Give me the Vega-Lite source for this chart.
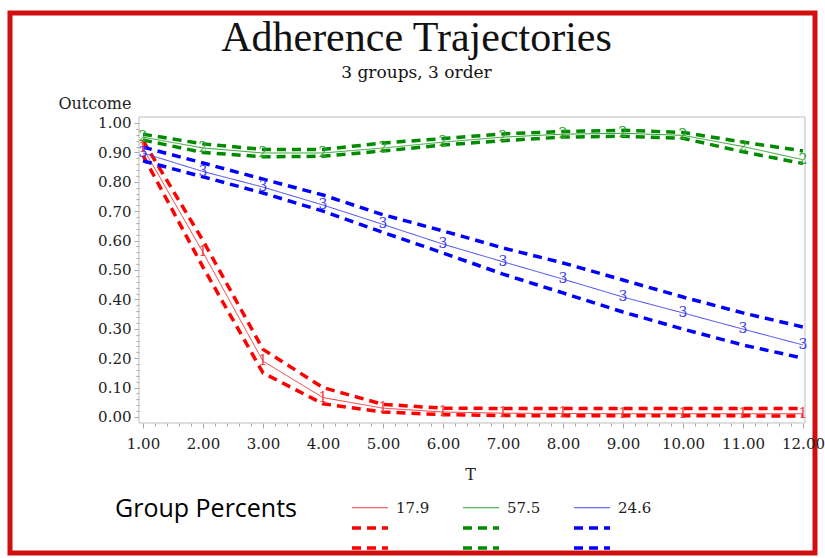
{
  "$schema": "https://vega.github.io/schema/vega-lite/v6.json",
  "width": 805,
  "height": 540,
  "autosize": {"type": "none"},
  "padding": {"left": 10, "top": 13, "right": 10, "bottom": 5},
  "background": "white",
  "config": {
    "view": {"stroke": "#d01010", "strokeWidth": 5, "fill": "white"}
  },
  "title": {
    "text": "Adherence Trajectories",
    "subtitle": "3 groups, 3 order",
    "font": "Liberation Serif",
    "fontSize": 42,
    "fontWeight": "normal",
    "color": "#111111",
    "subtitleFont": "DejaVu Serif",
    "subtitleFontSize": 17,
    "subtitleColor": "#111111",
    "subtitlePadding": 5,
    "anchor": "middle",
    "frame": "group",
    "offset": -69,
    "dx": 4
  },
  "datasets": {
    "traj": [
      {"group":"1","series":"1m","t":1,"outcome":0.915},{"group":"1","series":"1m","t":2,"outcome":0.56},{"group":"1","series":"1m","t":3,"outcome":0.19},{"group":"1","series":"1m","t":4,"outcome":0.066},{"group":"1","series":"1m","t":5,"outcome":0.03},{"group":"1","series":"1m","t":6,"outcome":0.017},{"group":"1","series":"1m","t":7,"outcome":0.013},{"group":"1","series":"1m","t":8,"outcome":0.012},{"group":"1","series":"1m","t":9,"outcome":0.011},{"group":"1","series":"1m","t":10,"outcome":0.011},{"group":"1","series":"1m","t":11,"outcome":0.011},{"group":"1","series":"1m","t":12,"outcome":0.011},
      {"group":"1","series":"1u","t":1,"outcome":0.94},{"group":"1","series":"1u","t":2,"outcome":0.60},{"group":"1","series":"1u","t":3,"outcome":0.23},{"group":"1","series":"1u","t":4,"outcome":0.10},{"group":"1","series":"1u","t":5,"outcome":0.043},{"group":"1","series":"1u","t":6,"outcome":0.030},{"group":"1","series":"1u","t":7,"outcome":0.029},{"group":"1","series":"1u","t":8,"outcome":0.029},{"group":"1","series":"1u","t":9,"outcome":0.029},{"group":"1","series":"1u","t":10,"outcome":0.029},{"group":"1","series":"1u","t":11,"outcome":0.029},{"group":"1","series":"1u","t":12,"outcome":0.029},
      {"group":"1","series":"1l","t":1,"outcome":0.89},{"group":"1","series":"1l","t":2,"outcome":0.51},{"group":"1","series":"1l","t":3,"outcome":0.15},{"group":"1","series":"1l","t":4,"outcome":0.045},{"group":"1","series":"1l","t":5,"outcome":0.017},{"group":"1","series":"1l","t":6,"outcome":0.008},{"group":"1","series":"1l","t":7,"outcome":0.005},{"group":"1","series":"1l","t":8,"outcome":0.004},{"group":"1","series":"1l","t":9,"outcome":0.004},{"group":"1","series":"1l","t":10,"outcome":0.004},{"group":"1","series":"1l","t":11,"outcome":0.004},{"group":"1","series":"1l","t":12,"outcome":0.003},
      {"group":"2","series":"2m","t":1,"outcome":0.952},{"group":"2","series":"2m","t":2,"outcome":0.915},{"group":"2","series":"2m","t":3,"outcome":0.898},{"group":"2","series":"2m","t":4,"outcome":0.898},{"group":"2","series":"2m","t":5,"outcome":0.915},{"group":"2","series":"2m","t":6,"outcome":0.935},{"group":"2","series":"2m","t":7,"outcome":0.952},{"group":"2","series":"2m","t":8,"outcome":0.962},{"group":"2","series":"2m","t":9,"outcome":0.965},{"group":"2","series":"2m","t":10,"outcome":0.958},{"group":"2","series":"2m","t":11,"outcome":0.92},{"group":"2","series":"2m","t":12,"outcome":0.875},
      {"group":"2","series":"2u","t":1,"outcome":0.962},{"group":"2","series":"2u","t":2,"outcome":0.929},{"group":"2","series":"2u","t":3,"outcome":0.91},{"group":"2","series":"2u","t":4,"outcome":0.91},{"group":"2","series":"2u","t":5,"outcome":0.932},{"group":"2","series":"2u","t":6,"outcome":0.947},{"group":"2","series":"2u","t":7,"outcome":0.963},{"group":"2","series":"2u","t":8,"outcome":0.971},{"group":"2","series":"2u","t":9,"outcome":0.975},{"group":"2","series":"2u","t":10,"outcome":0.968},{"group":"2","series":"2u","t":11,"outcome":0.935},{"group":"2","series":"2u","t":12,"outcome":0.905},
      {"group":"2","series":"2l","t":1,"outcome":0.942},{"group":"2","series":"2l","t":2,"outcome":0.90},{"group":"2","series":"2l","t":3,"outcome":0.885},{"group":"2","series":"2l","t":4,"outcome":0.887},{"group":"2","series":"2l","t":5,"outcome":0.905},{"group":"2","series":"2l","t":6,"outcome":0.925},{"group":"2","series":"2l","t":7,"outcome":0.94},{"group":"2","series":"2l","t":8,"outcome":0.952},{"group":"2","series":"2l","t":9,"outcome":0.955},{"group":"2","series":"2l","t":10,"outcome":0.948},{"group":"2","series":"2l","t":11,"outcome":0.902},{"group":"2","series":"2l","t":12,"outcome":0.862},
      {"group":"3","series":"3m","t":1,"outcome":0.898},{"group":"3","series":"3m","t":2,"outcome":0.835},{"group":"3","series":"3m","t":3,"outcome":0.782},{"group":"3","series":"3m","t":4,"outcome":0.721},{"group":"3","series":"3m","t":5,"outcome":0.655},{"group":"3","series":"3m","t":6,"outcome":0.588},{"group":"3","series":"3m","t":7,"outcome":0.528},{"group":"3","series":"3m","t":8,"outcome":0.469},{"group":"3","series":"3m","t":9,"outcome":0.408},{"group":"3","series":"3m","t":10,"outcome":0.354},{"group":"3","series":"3m","t":11,"outcome":0.299},{"group":"3","series":"3m","t":12,"outcome":0.245},
      {"group":"3","series":"3u","t":1,"outcome":0.918},{"group":"3","series":"3u","t":2,"outcome":0.864},{"group":"3","series":"3u","t":3,"outcome":0.809},{"group":"3","series":"3u","t":4,"outcome":0.755},{"group":"3","series":"3u","t":5,"outcome":0.688},{"group":"3","series":"3u","t":6,"outcome":0.633},{"group":"3","series":"3u","t":7,"outcome":0.575},{"group":"3","series":"3u","t":8,"outcome":0.524},{"group":"3","series":"3u","t":9,"outcome":0.466},{"group":"3","series":"3u","t":10,"outcome":0.408},{"group":"3","series":"3u","t":11,"outcome":0.354},{"group":"3","series":"3u","t":12,"outcome":0.306},
      {"group":"3","series":"3l","t":1,"outcome":0.871},{"group":"3","series":"3l","t":2,"outcome":0.817},{"group":"3","series":"3l","t":3,"outcome":0.762},{"group":"3","series":"3l","t":4,"outcome":0.70},{"group":"3","series":"3l","t":5,"outcome":0.628},{"group":"3","series":"3l","t":6,"outcome":0.558},{"group":"3","series":"3l","t":7,"outcome":0.486},{"group":"3","series":"3l","t":8,"outcome":0.422},{"group":"3","series":"3l","t":9,"outcome":0.357},{"group":"3","series":"3l","t":10,"outcome":0.299},{"group":"3","series":"3l","t":11,"outcome":0.245},{"group":"3","series":"3l","t":12,"outcome":0.20}
    ]
  },
  "layer": [
    {
      "data": {"values": [{}]},
      "mark": {"type": "rect", "filled": false, "stroke": "#bdbdbd", "strokeWidth": 1},
      "encoding": {
        "x": {"datum": 0.9333, "type": "quantitative"},
        "x2": {"datum": 12.0333},
        "y": {"datum": 1.0204, "type": "quantitative"},
        "y2": {"datum": -0.0204}
      }
    },
    {
      "data": {"name": "traj"},
      "mark": {"type": "line", "interpolate": "linear"},
      "encoding": {
        "x": {
          "field": "t", "type": "quantitative",
          "scale": {"domain": [-1.21667, 12.2], "nice": false, "zero": false},
          "axis": {
            "orient": "bottom", "offset": -130, "domain": false, "grid": false, "tickCount": 200,
            "values": [1,1.2,1.4,1.6,1.8,2,2.2,2.4,2.6,2.8,3,3.2,3.4,3.6,3.8,4,4.2,4.4,4.6,4.8,5,5.2,5.4,5.6,5.8,6,6.2,6.4,6.6,6.8,7,7.2,7.4,7.6,7.8,8,8.2,8.4,8.6,8.8,9,9.2,9.4,9.6,9.8,10,10.2,10.4,10.6,10.8,11,11.2,11.4,11.6,11.8,12],
            "labelExpr": "abs(datum.value - round(datum.value)) < 0.001 ? format(datum.value, '.2f') : ''",
            "tickSize": {"condition": {"test": "abs(datum.value - round(datum.value)) < 0.001", "value": 5}, "value": 3},
            "tickColor": "#a8a8a8",
            "labelFont": "DejaVu Serif", "labelFontSize": 15, "labelColor": "#222222",
            "labelPadding": 8, "labelOverlap": false, "labelFlush": false, "labelBound": false,
            "title": "T", "titleFont": "DejaVu Serif", "titleFontSize": 16, "titleFontWeight": "normal",
            "titleColor": "#222222", "titleX": 460, "titleY": 51, "titleBaseline": "middle", "titleAlign": "center"
          }
        },
        "y": {
          "field": "outcome", "type": "quantitative",
          "scale": {"domain": [-0.46259, 1.37415], "nice": false, "zero": false},
          "axis": {
            "orient": "left", "offset": -129, "domain": false, "grid": false, "tickCount": 200,
            "values": [0,0.02,0.04,0.06,0.08,0.1,0.12,0.14,0.16,0.18,0.2,0.22,0.24,0.26,0.28,0.3,0.32,0.34,0.36,0.38,0.4,0.42,0.44,0.46,0.48,0.5,0.52,0.54,0.56,0.58,0.6,0.62,0.64,0.66,0.68,0.7,0.72,0.74,0.76,0.78,0.8,0.82,0.84,0.86,0.88,0.9,0.92,0.94,0.96,0.98,1],
            "labelExpr": "abs(datum.value*10 - round(datum.value*10)) < 0.001 ? format(datum.value, '.2f') : ''",
            "tickSize": {"condition": {"test": "abs(datum.value*10 - round(datum.value*10)) < 0.001", "value": 5}, "value": 3},
            "tickColor": "#a8a8a8",
            "labelFont": "DejaVu Serif", "labelFontSize": 15, "labelColor": "#222222",
            "labelPadding": 3, "labelOverlap": false, "labelFlush": false, "labelBound": false,
            "title": "Outcome", "titleAngle": 0, "titleAlign": "right", "titleBaseline": "middle",
            "titleX": -8, "titleY": 90, "titleFont": "DejaVu Serif", "titleFontSize": 16,
            "titleFontWeight": "normal", "titleColor": "#222222"
          }
        },
        "color": {
          "field": "series", "type": "nominal",
          "scale": {
            "domain": ["1m","2m","3m","1u","2u","3u","1l","2l","3l"],
            "range": ["#f03a3a","#2ea02e","#4040f0","#ff0000","#008a00","#0000ff","#ff0000","#008a00","#0000ff"]
          },
          "legend": {
            "title": "Group Percents", "orient": "none", "legendX": 105, "legendY": 484,
            "direction": "horizontal", "columns": 3, "titleOrient": "left",
            "titleAnchor": "start", "titleBaseline": "top", "titleAlign": "left", "titleLimit": 400,
            "titleFont": "Open Sans", "titleFontSize": 25, "titleFontWeight": "normal", "titleColor": "#000000",
            "titlePadding": 60,
            "symbolType": "M-1.8,0H1.8", "symbolSize": 400,
            "labelFont": "DejaVu Serif", "labelFontSize": 15, "labelColor": "#222222", "labelOffset": 14,
            "columnPadding": 26, "rowPadding": 0,
            "labelExpr": "datum.label == '1m' ? '17.9' : datum.label == '2m' ? '57.5' : datum.label == '3m' ? '24.6' : ''"
          }
        },
        "strokeDash": {
          "field": "series", "type": "nominal",
          "scale": {
            "domain": ["1m","2m","3m","1u","2u","3u","1l","2l","3l"],
            "range": [[1,0],[1,0],[1,0],[9,6],[9,6],[9,6],[9,6],[9,6],[9,6]]
          },
          "legend": {
            "title": "Group Percents", "orient": "none", "legendX": 105, "legendY": 484,
            "direction": "horizontal", "columns": 3,
            "labelExpr": "datum.label == '1m' ? '17.9' : datum.label == '2m' ? '57.5' : datum.label == '3m' ? '24.6' : ''"
          }
        },
        "strokeWidth": {
          "field": "series", "type": "nominal",
          "scale": {
            "type": "ordinal",
            "domain": ["1m","2m","3m","1u","2u","3u","1l","2l","3l"],
            "range": [1,1,1,3.5,3.5,3.5,3.5,3.5,3.5]
          },
          "legend": {
            "title": "Group Percents", "orient": "none", "legendX": 105, "legendY": 484,
            "direction": "horizontal", "columns": 3,
            "labelExpr": "datum.label == '1m' ? '17.9' : datum.label == '2m' ? '57.5' : datum.label == '3m' ? '24.6' : ''"
          }
        }
      }
    },
    {
      "data": {"name": "traj"},
      "transform": [{"filter": {"field": "series", "oneOf": ["1m","2m","3m"]}}],
      "mark": {"type": "text", "font": "DejaVu Serif", "fontSize": 14, "align": "center", "baseline": "middle"},
      "encoding": {
        "x": {"field": "t", "type": "quantitative"},
        "y": {"field": "outcome", "type": "quantitative"},
        "text": {"field": "group", "type": "nominal"},
        "color": {"field": "series", "type": "nominal"}
      }
    }
  ]
}
